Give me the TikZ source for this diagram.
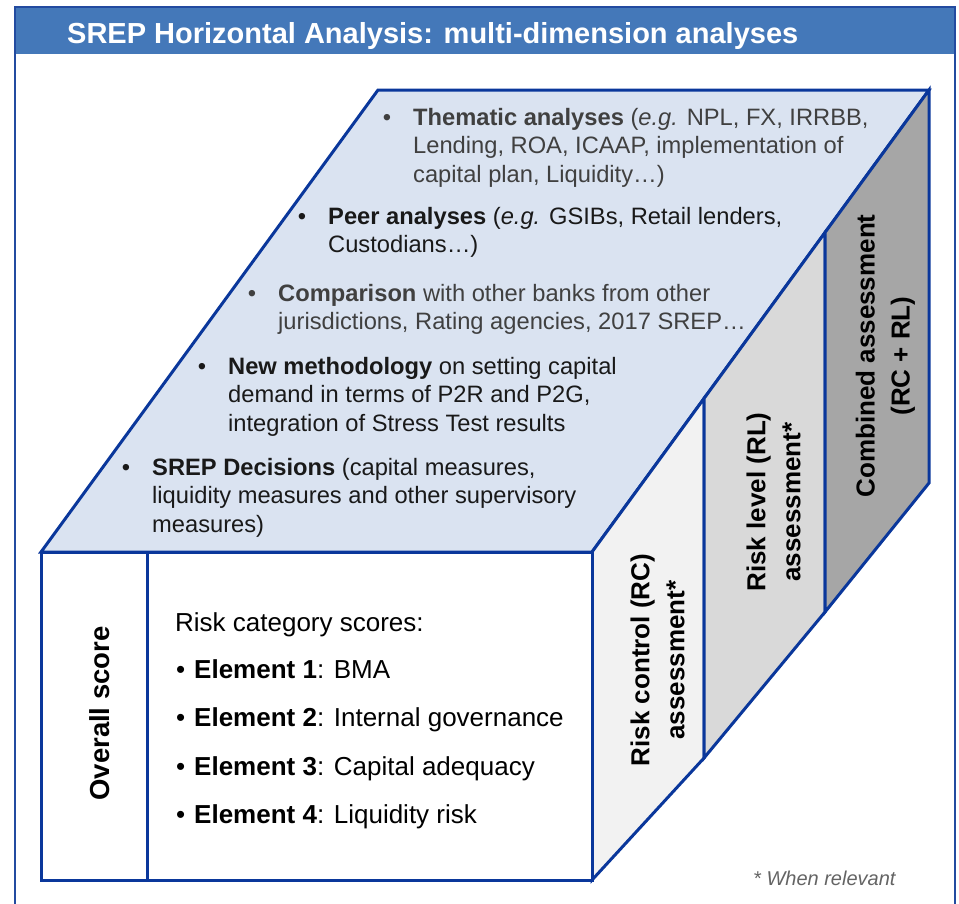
\documentclass[tikz,border=0pt]{standalone}
\usepackage{fontspec}
\setmainfont{Liberation Sans}
\definecolor{cubeline}{RGB}{10,55,155}
\definecolor{framec}{RGB}{35,75,160}
\definecolor{titlebar}{RGB}{68,120,185}
\definecolor{topface}{RGB}{218,227,241}
\definecolor{rcfill}{RGB}{242,242,242}
\definecolor{rlfill}{RGB}{217,217,217}
\definecolor{cbfill}{RGB}{166,166,166}
\definecolor{txtgrey}{RGB}{64,64,64}
\definecolor{txtdark}{RGB}{25,25,25}
\definecolor{notegrey}{RGB}{100,100,100}
\begin{document}
\begin{tikzpicture}[x=1pt,y=-1pt,
  cube/.style={draw=cubeline,line width=3pt,line join=miter},
  toptext/.style={anchor=base west,align=left,inner sep=0pt,font=\fontsize{23.7}{28.5}\selectfont},
  fronttext/.style={anchor=base west,inner sep=0pt,font=\fontsize{26}{31}\selectfont},
  sidelabel/.style={rotate=90,align=center,inner sep=0pt,font=\fontsize{26}{35}\selectfont\bfseries}]
\useasboundingbox (0,0) rectangle (959,903);
\clip (0,0) rectangle (959,903);
% frame and title bar
\fill[titlebar] (15,7) rectangle (955,54);
\draw[framec,line width=2pt] (15,930) -- (15,7) -- (955,7) -- (955,930);
\node[anchor=base west,text=white,inner sep=0pt,font=\fontsize{29}{34}\selectfont\bfseries] (title) at (67,43) {SREP Horizontal Analysis: multi-dimension analyses};
% cube coordinates
\coordinate (FTL) at (41,552);
\coordinate (FTR) at (592,552);
\coordinate (FBL) at (41,880);
\coordinate (FBR) at (592,880);
\coordinate (BTL) at (378,90);
\coordinate (BTR) at (929,90);
\coordinate (D1T) at (704,398.5);
\coordinate (D1B) at (704,758);
\coordinate (D2T) at (825,232.5);
\coordinate (D2B) at (825,612);
\coordinate (BBR) at (929,483);
\coordinate (DivT) at (147,552);
\coordinate (DivB) at (147,880);
% faces
\filldraw[cube,fill=topface] (FTL) -- (BTL) -- (BTR) -- (FTR) -- cycle;
\filldraw[cube,fill=rcfill] (FTR) -- (D1T) -- (D1B) -- (FBR) -- cycle;
\filldraw[cube,fill=rlfill] (D1T) -- (D2T) -- (D2B) -- (D1B) -- cycle;
\filldraw[cube,fill=cbfill] (D2T) -- (BTR) -- (BBR) -- (D2B) -- cycle;
\filldraw[cube,fill=white] (FTL) rectangle (FBR);
\draw[cube] (DivT) -- (DivB);
% top face texts (anchor = baseline of the last line)
\node[toptext,text=txtgrey] (thematic) at (413,182) {\llap{•\hspace{22pt}}\textbf{Thematic analyses} (\textit{e.g.} NPL, FX, IRRBB,\\Lending, ROA, ICAAP, implementation of\\capital plan, Liquidity…)};
\node[toptext,text=txtdark] (peer) at (328,252.5) {\llap{•\hspace{22pt}}\textbf{Peer analyses} (\textit{e.g.} GSIBs, Retail lenders,\\Custodians…)};
\node[toptext,text=txtgrey] (comparison) at (278,329.5) {\llap{•\hspace{22pt}}\textbf{Comparison} with other banks from other\\jurisdictions, Rating agencies, 2017 SREP…};
\node[toptext,text=txtdark] (newmeth) at (228,431) {\llap{•\hspace{22pt}}\textbf{New methodology} on setting capital\\demand in terms of P2R and P2G,\\integration of Stress Test results};
\node[toptext,text=txtdark] (decisions) at (152,532) {\llap{•\hspace{22pt}}\textbf{SREP Decisions} (capital measures,\\liquidity measures and other supervisory\\measures)};
% front face texts
\node[fronttext] (rcs) at (175,631.5) {Risk category scores:};
\node[fronttext] (el1) at (194,678) {\llap{•\hspace{9pt}}\textbf{Element 1}: BMA};
\node[fronttext] (el2) at (194,726.5) {\llap{•\hspace{9pt}}\textbf{Element 2}: Internal governance};
\node[fronttext] (el3) at (194,775) {\llap{•\hspace{9pt}}\textbf{Element 3}: Capital adequacy};
\node[fronttext] (el4) at (194,823) {\llap{•\hspace{9pt}}\textbf{Element 4}: Liquidity risk};
% vertical labels
\node[sidelabel,font=\fontsize{27.5}{33}\selectfont\bfseries] (overall) at (100,713.5) {Overall score};
\node[sidelabel] (rc) at (657.5,660) {Risk control (RC)\\assessment*};
\node[sidelabel] (rl) at (773.5,502) {Risk level (RL)\\assessment*};
\node[sidelabel] (cb) at (885.5,356) {Combined assessment\\(RC + RL)};
% note
\node[anchor=base west,inner sep=0pt,text=notegrey,font=\fontsize{20}{24}\selectfont\itshape] (note) at (753,885) {* When relevant};
\end{tikzpicture}
\end{document}
